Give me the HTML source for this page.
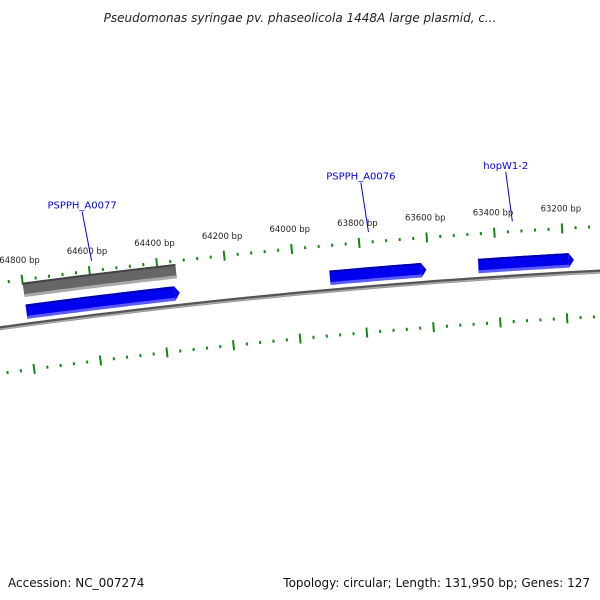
<!DOCTYPE html>
<html><head><meta charset="utf-8"><style>
body{margin:0;background:#fff}
svg{display:block;font-family:"DejaVu Sans","Liberation Sans",sans-serif}
</style></head><body>
<svg id="c" width="600" height="600" viewBox="0 0 600 600">
<text x="300" y="22" text-anchor="middle" font-size="12" font-style="italic" fill="#222">Pseudomonas syringae pv. phaseolicola 1448A large plasmid, c...</text>
<text x="8" y="587" font-size="12" fill="#111">Accession: NC_007274</text>
<text x="590" y="587" text-anchor="end" font-size="12" fill="#111">Topology: circular; Length: 131,950 bp; Genes: 127</text>
<g id="g"></g>
</svg>
<script>
const tickLabels = [64800, 64600, 64400, 64200, 64000, 63800, 63600, 63400, 63200];
const featStart = [64800, 64800, 63895, 63454];
const featEnd = [64346, 64342, 63608, 63170];
const featSlot = ["outer", "inner", "inner", "inner"];
const geneNames = ["PSPPH_A0077", "PSPPH_A0076", "hopW1-2"];
const geneBp = [64590, 63770, 63345];

const R = 7100, CX = 967, CY = 7362;
const k = 0.339 / (R + 45);
function ang(bp){ return -0.094 + (63986 - bp) * k; }
function pt(bp, r){ const a = ang(bp); return [CX + (R + r) * Math.sin(a), CY - (R + r) * Math.cos(a)]; }
const NS = "http://www.w3.org/2000/svg";
const g = document.getElementById('g');
function mk(tag, attrs){ const e = document.createElementNS(NS, tag); for (const a in attrs) e.setAttribute(a, attrs[a]); g.appendChild(e); return e; }
function arcPath(b0, b1, r){ let d = ""; const n = 40; for (let i = 0; i <= n; i++){ const p = pt(b0 + (b1 - b0) * i / n, r); d += (i ? "L" : "M") + p[0].toFixed(1) + " " + p[1].toFixed(1); } return d; }

let e = mk('path', {d: arcPath(65200, 62500, 0), stroke: '#555', 'stroke-width': 4, fill: 'none'});
 
e = mk('path', {d: arcPath(65200, 62500, -1), stroke: '#aaa', 'stroke-width': 1.5, fill: 'none'});
 

[45, -45].forEach(function(rr){
  for (let bp = 65400; bp >= 62600; bp -= 40){
    const major = bp % 200 === 0;
    const len = major ? 5 : 1.5;
    const p0 = pt(bp, rr - len), p1 = pt(bp, rr + len);
    const t = mk('line', {x1: p0[0], y1: p0[1], x2: p1[0], y2: p1[1], stroke: '#118811', 'stroke-width': 2});
    
    
  }
});
tickLabels.forEach(function(bp){
  const p = pt(bp, 65);
  const t = mk('text', {x: p[0], y: p[1] + 3, 'text-anchor': 'middle', 'font-size': 8.5, fill: '#222'});
  t.textContent = bp + " bp";
  
  
});

featStart.forEach(function(s, i){
  const en = featEnd[i];
  const outer = featSlot[i] === "outer";
  const rc = outer ? 35 : 13;
  const col = outer ? '#666' : '#0000ee';
  const lite = outer ? '#aaa' : '#5a5aff';
  const dark = outer ? '#444' : '#0000b0';
  const body = outer ? en : en + 15;
  const m = mk('path', {d: arcPath(s, body, rc), stroke: col, 'stroke-width': 14, fill: 'none'});
  
  
  const l = mk('path', {d: arcPath(s, body, rc - 6), stroke: lite, 'stroke-width': 3, fill: 'none'});
  
  
  const dd = mk('path', {d: arcPath(s, body, rc + 6), stroke: dark, 'stroke-width': 2, fill: 'none'});
  
  
  if (!outer){
    const a = pt(body, rc + 7), b = pt(en, rc), c = pt(body, rc - 7);
    const h = mk('polygon', {points: a.join(',') + ' ' + b.join(',') + ' ' + c.join(','), fill: col});
    
    
  }
});

geneNames.forEach(function(n, i){
  const p0 = pt(geneBp[i], 55), p1 = pt(geneBp[i] + 10, 105);
  const ln = mk('line', {x1: p0[0], y1: p0[1], x2: p1[0], y2: p1[1], stroke: '#0000ee', 'stroke-width': 1});
  
  
  const t = mk('text', {x: p1[0], y: p1[1] - 3, 'text-anchor': 'middle', 'font-size': 10, fill: '#0000ee'});
  t.textContent = n;
  
  
});
</script>
</body></html>
